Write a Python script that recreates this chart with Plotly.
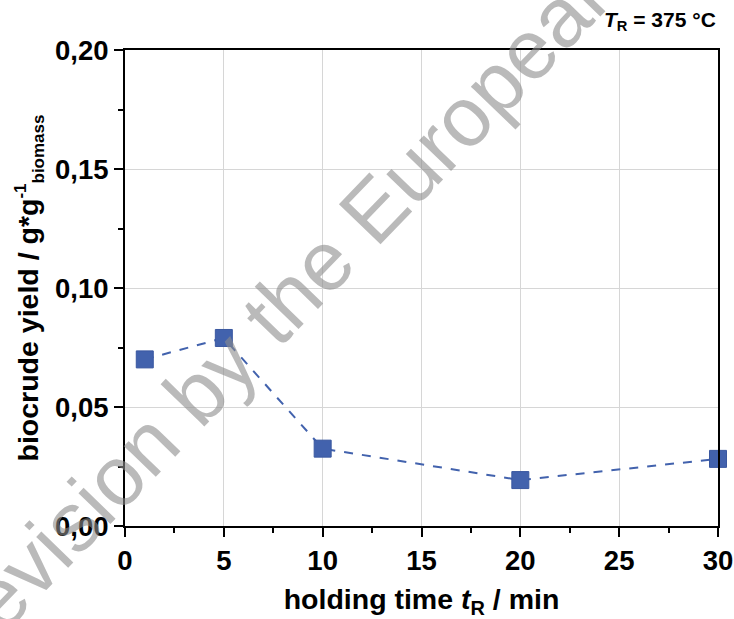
import plotly.graph_objects as go

holding_time = [1, 5, 10, 20, 30]
biocrude_yield = [0.070, 0.079, 0.0325, 0.0193, 0.0282]
x_ticks = [0, 5, 10, 15, 20, 25, 30]
y_ticks = [0.00, 0.05, 0.10, 0.15, 0.20]

blue = "#4262ad"
font_family = "Liberation Sans, Arial, sans-serif"

fig = go.Figure()
fig.add_trace(go.Scatter(
    x=holding_time, y=biocrude_yield, mode="lines+markers",
    line=dict(color=blue, width=2, dash="dash"),
    marker=dict(symbol="square", size=17, color=blue, line=dict(color="#3a58a0", width=1)),
    showlegend=False, cliponaxis=False,
))

axis_common = dict(
    showline=True, linecolor="black", linewidth=2, mirror=True,
    ticks="outside", ticklen=9, tickwidth=2, tickcolor="black",
    showgrid=True, gridcolor="#d6d6d6", gridwidth=1,
    zeroline=False, automargin=False, ticklabeloverflow="allow",
    tickfont=dict(family=font_family, size=27.5, color="black", weight="bold"),
)

fig.update_xaxes(
    range=[0, 30], tickvals=x_ticks, ticktext=[str(v) for v in x_ticks],
    minor=dict(ticks="outside", ticklen=5, tickwidth=2, tickcolor="black", dtick=2.5, tick0=0, showgrid=False),
    title=dict(text="holding time <i>t</i><sub>R</sub> / min", standoff=16,
               font=dict(family=font_family, size=28.5, color="black", weight="bold")),
    **axis_common,
)
fig.update_yaxes(
    range=[0, 0.20], tickvals=y_ticks, tickformat=".2f",
    minor=dict(ticks="outside", ticklen=5, tickwidth=2, tickcolor="black", dtick=0.025, tick0=0, showgrid=False),
    title=dict(text="biocrude yield / g*g<sup><span style='font-size:17px'>-1</span></sup>"
                    "<sub><span style='font-size:17px'>biomass</span></sub>", standoff=8,
               font=dict(family=font_family, size=28.5, color="black", weight="bold")),
    **axis_common,
)

fig.add_annotation(
    xref="paper", yref="paper", x=1.0, y=1.03, xanchor="right", yanchor="bottom",
    text="<i>T</i><sub>R</sub> = 375 °C", showarrow=False,
    font=dict(family=font_family, size=21, color="black", weight="bold"),
)

fig.add_annotation(
    xref="paper", yref="paper", x=0.251, y=0.447, xanchor="center", yanchor="middle",
    text="Revision by the European", showarrow=False, textangle=-46,
    font=dict(family=font_family, size=84, color="rgba(140,140,140,0.6)"),
)

fig.update_layout(
    width=734, height=619,
    margin=dict(l=125, r=16, t=50, b=93),
    paper_bgcolor="white", plot_bgcolor="white",
    separators=",.",
)

fig.write_html("out.html", config={"displayModeBar": False},
               post_script="document.body.style.margin='0px';document.body.style.overflow='hidden';")
